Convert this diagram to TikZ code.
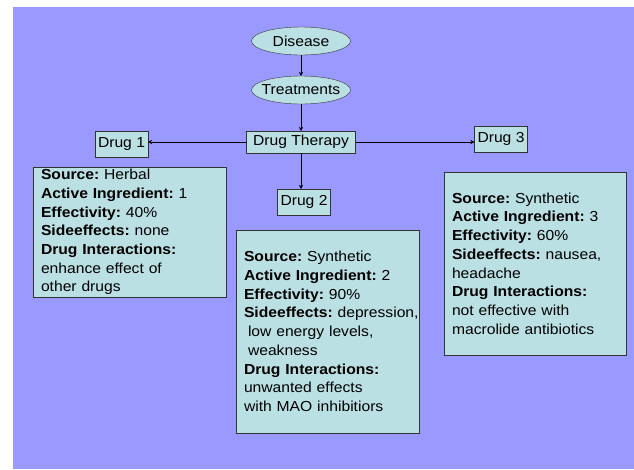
\documentclass[tikz,border=0pt]{standalone}
\usepackage{fontspec}
\setmainfont{Liberation Sans}[FakeStretch=1.08]
\usepackage{tikz}
\usetikzlibrary{shapes.geometric,arrows.meta,positioning}
\definecolor{lavender}{HTML}{9999FF}
\definecolor{paleblue}{HTML}{BBE0E3}
\definecolor{rim}{HTML}{333333}
\frenchspacing
\hyphenpenalty=10000

\begin{document}
\begin{tikzpicture}[x=1pt,y=-1pt,inner sep=0pt,outer sep=0pt,
    font=\fontsize{14.5}{18.7}\selectfont]
      \tikzset{oval/.style={ellipse,draw=rim,fill=paleblue,inner xsep=-12pt,minimum width=99pt,minimum height=28pt}}
      \tikzset{field/.style={rectangle,draw=rim,fill=paleblue,minimum height=26pt,minimum width=53pt}}
      \tikzset{infobox/.style={rectangle,draw=rim,fill=paleblue,align=left,inner xsep=8pt,anchor=center}}
      \tikzset{link/.style={draw=black,-{Stealth[length=4pt,width=4pt]}}}

      \useasboundingbox (0,0) rectangle (634,469);
      \fill[lavender] (13,7) rectangle (634,469);

      \node [oval] at (301,41) (disease) {Disease};
      \node [oval, below=21pt of disease] (treat) {Treatments};
      \node [field, below=27pt of treat, minimum width=109pt, minimum height=22pt] (therapy) {Drug Therapy};
      \node [field] at (121.5,144) (drug1) {Drug 1};
      \node [field] at (501,139) (drug3) {Drug 3};
      \node [field] at (304,202) (drug2) {Drug 2};

      \node [infobox, minimum width=193pt, minimum height=130pt, text width=177pt] at (129.5,232) (info1)
        {\textbf{Source:} Herbal\\
         \textbf{Active Ingredient:} 1\\
         \textbf{Effectivity:} 40\%\\
         \textbf{Sideeffects:} none\\
         \textbf{Drug Interactions:}\\
         enhance effect of\\
         other drugs};
      \node [infobox, minimum width=183pt, minimum height=203pt, text width=167pt] at (327.5,331.5) (info2)
        {\textbf{Source:} Synthetic\\
         \textbf{Active Ingredient:} 2\\
         \textbf{Effectivity:} 90\%\\
         \mbox{\textbf{Sideeffects:} depression,}\\
         \hspace{4pt}low energy levels,\\
         \hspace{4pt}weakness\\
         \textbf{Drug Interactions:}\\
         unwanted effects\\
         with MAO inhibitiors};
      \node [infobox, minimum width=182pt, minimum height=183pt, text width=166pt] at (535,263.5) (info3)
        {\textbf{Source:} Synthetic\\
         \textbf{Active Ingredient:} 3\\
         \textbf{Effectivity:} 60\%\\
         \textbf{Sideeffects:} nausea,\\
         headache\\
         \textbf{Drug Interactions:}\\
         not effective with\\
         macrolide antibiotics};

      \draw [link] (disease) -- (treat);
      \draw [link] (treat) -- (therapy);
      \draw [link] (therapy.west) -- (therapy.west -| drug1.east);
      \draw [link] (therapy.east) -- (therapy.east -| drug3.west);
      \draw [link] (therapy.south) -- (therapy.south |- drug2.north);
\end{tikzpicture}
\end{document}
